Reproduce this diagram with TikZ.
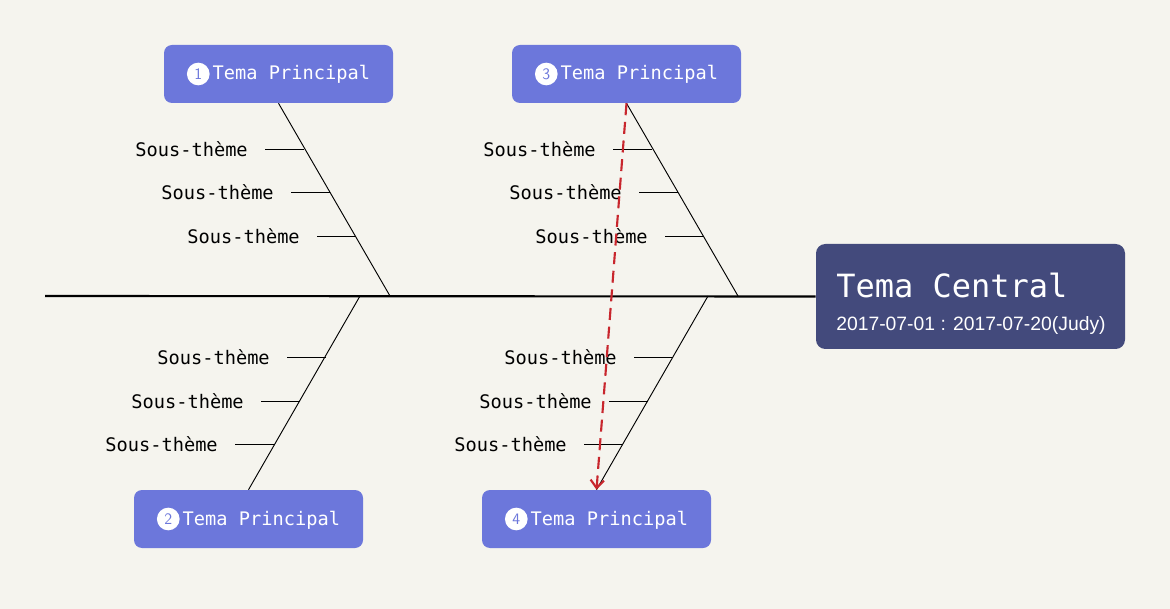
\documentclass[tikz,border=0pt]{standalone}
\usepackage{fontspec}
\setmainfont{Liberation Sans}
\setmonofont{DejaVu Sans Mono}
\usetikzlibrary{arrows.meta}
\definecolor{paper}{HTML}{F5F4EE}
\definecolor{topicblue}{HTML}{6C77DB}
\definecolor{centralblue}{HTML}{434A7C}
\definecolor{linkred}{HTML}{C8262D}
\tikzset{
  topic/.style={fill=topicblue, rounded corners=6pt, minimum width=171.75pt, minimum height=43.5pt, text=white, font=\ttfamily\fontsize{14}{16}\selectfont},
  central/.style={fill=centralblue, rounded corners=7pt, minimum width=231.75pt, minimum height=78.75pt},
  centraltext/.style={anchor=base west, inner sep=0pt, text=white},
  num/.style={circle, fill=white, text=topicblue, inner sep=0pt, minimum size=17pt, font=\sffamily\fontsize{12}{12}\selectfont},
  sub/.style={anchor=east, inner sep=0pt, font=\ttfamily\fontsize{14}{16}\selectfont},
  bone/.style={line width=0.7pt},
}
\begin{document}
\begin{tikzpicture}[x=0.75pt, y=-0.75pt]
    % background
    \fill[paper] (0,0) rectangle (1170,609);
    \useasboundingbox (0,0) rectangle (1170,609);

    % central topic
    \node[central] (c) at (970.5,296.5) {};
    \node[centraltext, font=\ttfamily\fontsize{24}{26}\selectfont] (ctitle) at (836,298) {Tema Central};
    \node[centraltext, font=\fontsize{14.5}{16}\selectfont] (cdate) at (836,330) {2017-07-01 : 2017-07-20(Judy)};

    % main topics
    \node[topic] (t1) at (278.5,74) {\tikz[baseline=-4.5pt]\node[num]{1};\,Tema Principal};
    \node[topic] (t3) at (626.5,74) {\tikz[baseline=-4.5pt]\node[num]{3};\,Tema Principal};
    \node[topic] (t2) at (248.5,519) {\tikz[baseline=-4.5pt]\node[num]{2};\,Tema Principal};
    \node[topic] (t4) at (596.5,519) {\tikz[baseline=-4.5pt]\node[num]{4};\,Tema Principal};

    % spine
    \coordinate (tail) at (45,296);
    \draw[line width=1.6pt] (tail) -- (c.west);

    % bones
    \coordinate (j1) at (390,296);
    \coordinate (j3) at (738,296);
    \coordinate (j2) at (360,296);
    \coordinate (j4) at (708,296);
    \draw[bone] (t1.south) -- (j1);
    \draw[bone] (t3.south) -- (j3);
    \draw[bone] (j2) -- (t2.north);
    \draw[bone] (j4) -- (t4.north);

    % sub-topics
    \foreach \x/\y/\l in {304/149/a1, 330/192/a2, 356/236/a3,
                          652/149/b1, 678/192/b2, 704/236/b3,
                          326/357/c1, 300/401/c2, 274/444/c3,
                          673/357/d1, 648/401/d2, 623/444/d3}{
      \coordinate (e\l) at (\x,\y);
      \node[sub] (s\l) at (\x-56,\y) {Sous-thème};
      \draw[bone] (e\l) -- ++(-39,0);
    }

    % link
    \draw[linkred, line width=1.6pt, dash pattern=on 9pt off 5pt, -{Straight Barb[length=6pt, width=10pt]}] (t3.south) -- (t4.north);
\end{tikzpicture}
\end{document}
